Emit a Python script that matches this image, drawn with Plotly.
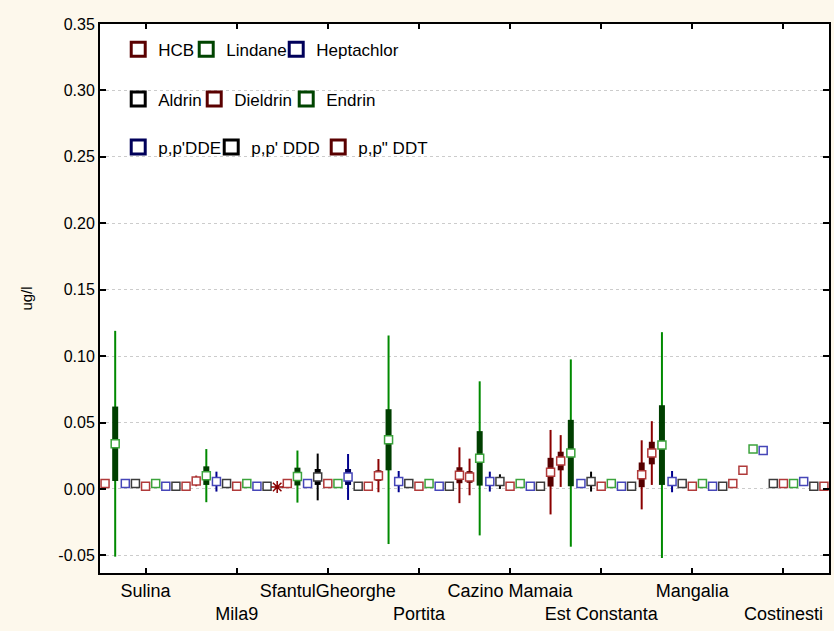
import plotly.graph_objects as go

# Sampling sites along the coast (categories on the x axis)
SITES = ["Sulina", "Mila9", "SfantulGheorghe", "Portita",
         "Cazino Mamaia", "Est Constanta", "Mangalia", "Costinesti"]

# Organochlorine pesticides, ug/l: mean, box half-range (SE), whisker half-range (SD)
HCB_MEAN = [0.004, 0.006, 0.004, 0.010, 0.009, 0.021, 0.027, 0.014]
HCB_SE = [0.0, 0.0, 0.0, 0.004, 0.0044, 0.007, 0.0085, 0.0]
HCB_SD = [0.0, 0.004, 0.0, 0.0125, 0.0138, 0.0195, 0.024, 0.0]

LINDANE_MEAN = [0.034, 0.010, 0.0093, 0.037, 0.023, 0.027, 0.033, 0.030]
LINDANE_SE = [0.028, 0.007, 0.0067, 0.023, 0.0205, 0.025, 0.030, 0.0]
LINDANE_SD = [0.085, 0.020, 0.0196, 0.0785, 0.058, 0.0705, 0.085, 0.0]

HEPTACHLOR_MEAN = [0.004, 0.0055, 0.004, 0.0055, 0.0055, 0.004, 0.0055, 0.029]
HEPTACHLOR_SE = [0.0, 0.003, 0.0, 0.002, 0.002, 0.0, 0.002, 0.0]
HEPTACHLOR_SD = [0.0, 0.0075, 0.0, 0.008, 0.0075, 0.0, 0.008, 0.0]

ALDRIN_MEAN = [0.004, 0.004, 0.009, 0.004, 0.0055, 0.0055, 0.004, 0.004]
ALDRIN_SE = [0.0, 0.0, 0.006, 0.0, 0.002, 0.002, 0.0, 0.0]
ALDRIN_SD = [0.002, 0.0, 0.0176, 0.0, 0.0055, 0.0075, 0.0, 0.0]

DIELDRIN_MEAN = [0.002, 0.002, 0.004, 0.002, 0.002, 0.002, 0.002, 0.004]
DIELDRIN_SE = [0.0, 0.0, 0.0, 0.0, 0.0, 0.0, 0.0, 0.0]
DIELDRIN_SD = [0.0, 0.0, 0.0, 0.0, 0.0, 0.0, 0.0, 0.0]

ENDRIN_MEAN = [0.004, 0.004, 0.004, 0.004, 0.004, 0.004, 0.004, 0.004]
ENDRIN_SE = [0.0, 0.0, 0.0, 0.0, 0.0, 0.0, 0.0, 0.0]
ENDRIN_SD = [0.0, 0.0, 0.0, 0.0, 0.0, 0.0, 0.0, 0.0]

DDE_MEAN = [0.002, 0.002, 0.009, 0.002, 0.002, 0.002, 0.002, 0.0055]
DDE_SE = [0.0, 0.0, 0.006, 0.0, 0.0, 0.0, 0.0, 0.0]
DDE_SD = [0.0, 0.0, 0.0173, 0.0, 0.0, 0.0, 0.0, 0.0]

DDD_MEAN = [0.002, 0.002, 0.002, 0.002, 0.002, 0.002, 0.002, 0.002]
DDD_SE = [0.0, 0.0, 0.0, 0.0, 0.0, 0.0, 0.0, 0.0]
DDD_SD = [0.0, 0.0, 0.0, 0.0, 0.0, 0.0, 0.0, 0.0]

DDT_MEAN = [0.002, 0.0015, 0.002, 0.0103, 0.0126, 0.0106, 0.004, 0.002]
DDT_SE = [0.0, 0.0, 0.0, 0.006, 0.0108, 0.0093, 0.0, 0.0]
DDT_SD = [0.0, 0.0, 0.0, 0.021, 0.0318, 0.026, 0.0, 0.0]

Y_TICKS = [-0.05, 0.0, 0.05, 0.10, 0.15, 0.20, 0.25, 0.30, 0.35]

# ---- styling -------------------------------------------------------------
RED = dict(whisker="#8b0000", box="#560000", marker="#b03a3a", legend="#5a0000")
GREEN = dict(whisker="#008a00", box="#003f00", marker="#3ca33c", legend="#004400")
BLUE = dict(whisker="#00008e", box="#00005e", marker="#4646b8", legend="#00005a")
BLACK = dict(whisker="#000000", box="#000000", marker="#3c3c3c", legend="#000000")

FONT = "Liberation Sans, Arial, sans-serif"

# name, mean, se, sd, colours, legend group, legend entry width (px)
SERIES = [
    ("HCB", HCB_MEAN, HCB_SE, HCB_SD, RED, "legend", 23),
    ("Lindane", LINDANE_MEAN, LINDANE_SE, LINDANE_SD, GREEN, "legend", 45),
    ("Heptachlor", HEPTACHLOR_MEAN, HEPTACHLOR_SE, HEPTACHLOR_SD, BLUE, "legend", None),
    ("Aldrin", ALDRIN_MEAN, ALDRIN_SE, ALDRIN_SD, BLACK, "legend2", 31),
    ("Dieldrin", DIELDRIN_MEAN, DIELDRIN_SE, DIELDRIN_SD, RED, "legend2", 47),
    ("Endrin", ENDRIN_MEAN, ENDRIN_SE, ENDRIN_SD, GREEN, "legend2", None),
    ("p,p'DDE", DDE_MEAN, DDE_SE, DDE_SD, BLUE, "legend3", 48),
    ("p,p' DDD", DDD_MEAN, DDD_SE, DDD_SD, BLACK, "legend3", 62),
    ('p,p" DDT', DDT_MEAN, DDT_SE, DDT_SD, RED, "legend3", None),
]
N = len(SERIES)

fig = go.Figure()

# whiskers (drawn first, underneath)
for j, (name, mean, se, sd, col, lg, lw) in enumerate(SERIES):
    xs = [s * N + j for s in range(len(SITES))]
    fig.add_trace(go.Scatter(
        x=xs, y=mean, mode="markers", showlegend=False, hoverinfo="skip",
        marker=dict(size=2, opacity=0),
        error_y=dict(type="data", array=sd, symmetric=True, width=0,
                     thickness=2, color=col["whisker"]),
    ))

# boxes and mean markers
for j, (name, mean, se, sd, col, lg, lw) in enumerate(SERIES):
    xs = [s * N + j for s in range(len(SITES))]
    symbols = ["square"] * len(SITES)
    fills = ["white"] * len(SITES)
    sizes = [8] * len(SITES)
    if name.endswith("DDT"):
        symbols[1] = "asterisk-open"
        fills[1] = col["whisker"]
        sizes[1] = 10
    fig.add_trace(go.Scatter(
        x=xs, y=mean, mode="markers", name=name, showlegend=False,
        marker=dict(symbol=symbols, size=sizes, color=fills, opacity=1,
                    line=dict(color=col["marker"], width=1.5)),
        error_y=dict(type="data", array=se, symmetric=True, width=0,
                     thickness=6, color=col["box"]),
    ))

# legend entries
for j, (name, mean, se, sd, col, lg, lw) in enumerate(SERIES):
    kw = {} if lw is None else dict(legendwidth=lw)
    fig.add_trace(go.Scatter(
        x=[None], y=[None], mode="markers", name=name, legend=lg,
        marker=dict(symbol="square", size=14, color="white",
                    line=dict(color=col["legend"], width=3)),
        **kw,
    ))

ticktext = [name if k % 2 == 0 else "<br>" + name for k, name in enumerate(SITES)]

legend_common = dict(orientation="h", xanchor="left", yanchor="middle",
                     bgcolor="rgba(0,0,0,0)", traceorder="normal",
                     font=dict(family=FONT, size=17, color="black"))

fig.update_layout(
    width=834, height=631,
    margin=dict(l=100, r=3, t=24, b=58),
    paper_bgcolor="#fdf8ec",
    plot_bgcolor="white",
    font=dict(family=FONT, color="black"),
    xaxis=dict(
        range=[-0.5, len(SITES) * N - 0.5],
        tickmode="array",
        tickvals=[s * N + (N - 1) / 2 for s in range(len(SITES))],
        ticktext=ticktext,
        tickangle=0,
        ticks="inside", ticklen=5, tickwidth=2, tickcolor="black",
        showline=True, linewidth=2, linecolor="black", mirror="ticks",
        showgrid=False, zeroline=False,
        tickfont=dict(family=FONT, size=18, color="black"),
    ),
    yaxis=dict(
        range=[-0.0633, 0.35],
        tickmode="array",
        tickvals=Y_TICKS,
        ticktext=[f"{v:.2f}" for v in Y_TICKS],
        ticks="inside", ticklen=6, tickwidth=2, tickcolor="black",
        showline=True, linewidth=2, linecolor="black", mirror="ticks",
        showgrid=True, gridcolor="#cccccc", gridwidth=1, griddash="3px,3px",
        zeroline=False,
        tickfont=dict(family=FONT, size=16, color="black"),
        title=dict(text="ug/l", font=dict(family=FONT, size=15, color="black"),
                   standoff=22),
    ),
    legend=dict(x=0.025, y=0.953, **legend_common),
    legend2=dict(x=0.025, y=0.8625, **legend_common),
    legend3=dict(x=0.025, y=0.775, **legend_common),
)

fig.write_html("out.html")
